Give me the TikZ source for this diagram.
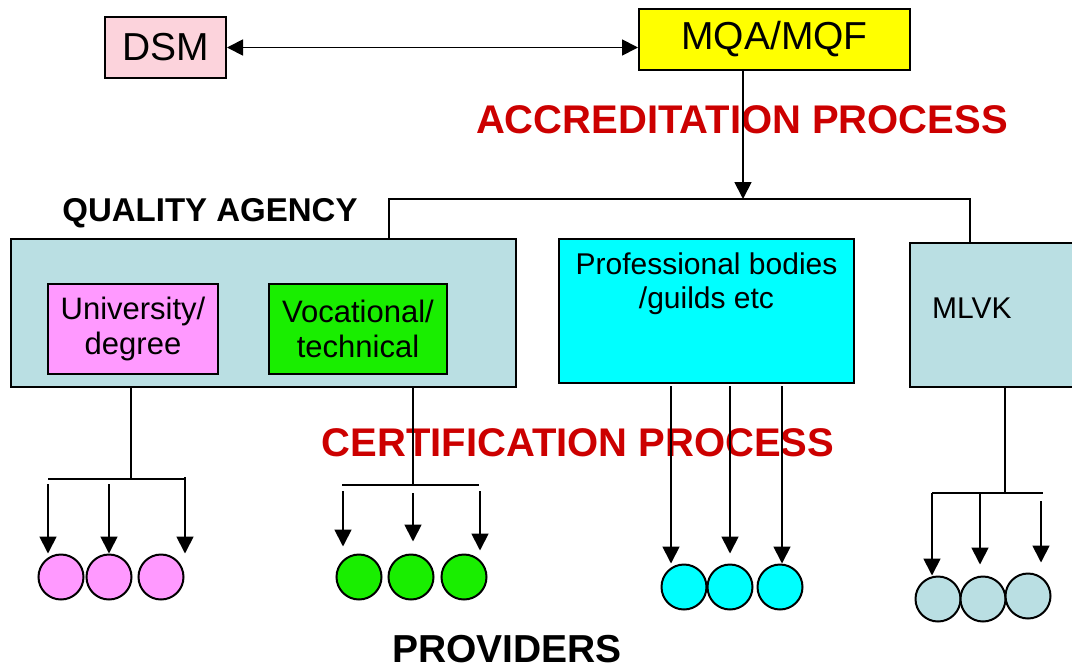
\documentclass[tikz,border=0pt]{standalone}
\usepackage{fontspec}
\setmainfont{Liberation Sans}
\usetikzlibrary{arrows.meta}
\definecolor{dsmpink}{HTML}{FCD3DC}
\definecolor{mqayellow}{HTML}{FFFF00}
\definecolor{agencyblue}{HTML}{BADFE3}
\definecolor{unipink}{HTML}{FF99FF}
\definecolor{vocgreen}{HTML}{19EE00}
\definecolor{profcyan}{HTML}{00FFFF}
\definecolor{processred}{HTML}{CC0000}

\begin{document}
\begin{tikzpicture}[x=1pt,y=-1pt,
    box/.style={draw, line width=2pt, inner sep=0pt, align=center},
    provider/.style={draw, circle, line width=2pt, minimum size=45pt, inner sep=0pt},
    link/.style={line width=1.8pt},
    tip/.style={line width=1.8pt, -{Triangle[width=17pt,length=17pt]}}]
\useasboundingbox (0,0) rectangle (1072,670);

% top boxes
\node[box, fill=dsmpink, minimum width=121pt, minimum height=61pt,
      font=\fontsize{39}{44}\selectfont] (dsm) at (165.5,47.5) {DSM};
\node[box, fill=mqayellow, minimum width=271pt, minimum height=61pt,
      font=\fontsize{39}{44}\selectfont] (mqa) at (774.5,39.5) {MQA/MQF};

% agencies
\node[box, fill=agencyblue, minimum width=505pt, minimum height=148pt] (qa) at (263.5,313) {};
\node[box, fill=unipink, minimum width=170pt, minimum height=90pt,
      font=\fontsize{31}{35}\selectfont] (uni) at (133,329) {University/\\degree};
\node[box, fill=vocgreen, minimum width=178pt, minimum height=90pt,
      font=\fontsize{31}{35}\selectfont] (voc) at (358,329) {Vocational/\\technical};
\node[box, fill=profcyan, minimum width=295pt, minimum height=144pt,
      label={[anchor=north, inner sep=0pt, yshift=-15pt, align=center,
              font=\fontsize{30}{34}\selectfont]north:{Professional bodies\\/guilds etc}}] (prof) at (706.5,311) {};
\node[box, fill=agencyblue, minimum width=180pt, minimum height=144pt,
      label={[anchor=west, inner sep=0pt, xshift=23pt, yshift=7pt,
              font=\fontsize{30}{34}\selectfont]west:MLVK}] (mlvk) at (1000,315) {};

% headings
\node[font=\bfseries\fontsize{33}{38}\selectfont] (qatitle) at (210,213) {QUALITY AGENCY};
\node[font=\bfseries\fontsize{40}{44}\selectfont, text=processred] (accr) at (742,120) {ACCREDITATION PROCESS};
\node[font=\bfseries\fontsize{40}{44}\selectfont, text=processred] (cert) at (578,443) {CERTIFICATION PROCESS};
\node[font=\bfseries\fontsize{39}{44}\selectfont, inner sep=0pt] (providers) at (507,649) {PROVIDERS};

% providers
\node[provider, fill=unipink] (u1) at (61,577) {};
\node[provider, fill=unipink] (u2) at (109,577) {};
\node[provider, fill=unipink] (u3) at (161,577) {};
\node[provider, fill=vocgreen] (v1) at (359,577) {};
\node[provider, fill=vocgreen] (v2) at (411,577) {};
\node[provider, fill=vocgreen] (v3) at (464,577) {};
\node[provider, fill=profcyan] (p1) at (684,587) {};
\node[provider, fill=profcyan] (p2) at (730,587) {};
\node[provider, fill=profcyan] (p3) at (780,587) {};
\node[provider, fill=agencyblue] (m1) at (938,599) {};
\node[provider, fill=agencyblue] (m2) at (983,599) {};
\node[provider, fill=agencyblue] (m3) at (1028,596) {};

% accreditation links
\draw[link, {Triangle[width=16pt,length=16pt]}-{Triangle[width=16pt,length=16pt]}] (dsm.east) -- (dsm.east -| mqa.west);
\coordinate (split) at (743,199);
\draw[tip] (split |- mqa.south) -- (split);
\coordinate (busl) at (389,199);
\coordinate (busr) at (970,199);
\draw[link] (busl |- qa.north) -- (busl) -- (busr) -- (busr |- mlvk.north);

% certification links
\coordinate (ujoin) at (131,479);
\coordinate (ubusl) at (48,479);
\coordinate (ubusr) at (185,479);
\coordinate (ua1) at (48,484);
\coordinate (ua2) at (109,484);
\coordinate (ua3) at (185,477);
\draw[link] (ujoin |- qa.south) -- (ujoin);
\draw[link] (ubusl) -- (ubusr);
\draw[tip] (ua1) -- (ua1 |- u1.north);
\draw[tip] (ua2) -- (ua2 |- u2.north);
\draw[tip] (ua3) -- (ua3 |- u3.north);

\coordinate (vjoin) at (413,485);
\coordinate (vbusl) at (342,485);
\coordinate (vbusr) at (479,485);
\coordinate (va1) at (343,491);
\coordinate (va2) at (413,493);
\coordinate (va3) at (480,491);
\draw[link] (vjoin |- qa.south) -- (vjoin);
\draw[link] (vbusl) -- (vbusr);
\draw[tip, shorten >=7pt] (va1) -- (va1 |- v1.north);
\draw[tip, shorten >=12pt] (va2) -- (va2 |- v2.north);
\draw[tip, shorten >=3pt] (va3) -- (va3 |- v3.north);

\coordinate (pa1) at (671,386);
\coordinate (pa2) at (730,386);
\coordinate (pa3) at (782,386);
\draw[tip] (pa1) -- (pa1 |- p1.north);
\draw[tip, shorten >=10pt] (pa2) -- (pa2 |- p2.north);
\draw[tip] (pa3) -- (pa3 |- p3.north);

\coordinate (mjoin) at (1005,493);
\coordinate (mbusl) at (932,493);
\coordinate (mbusr) at (1043,493);
\coordinate (ma2) at (980,493);
\coordinate (ma3) at (1041,501);
\draw[link] (mjoin |- mlvk.south) -- (mjoin);
\draw[link] (mbusl) -- (mbusr);
\draw[tip] (mbusl) -- (mbusl |- m1.north);
\draw[tip, shorten >=11pt] (ma2) -- (ma2 |- m2.north);
\draw[tip, shorten >=10pt] (ma3) -- (ma3 |- m3.north);
\end{tikzpicture}
\end{document}
